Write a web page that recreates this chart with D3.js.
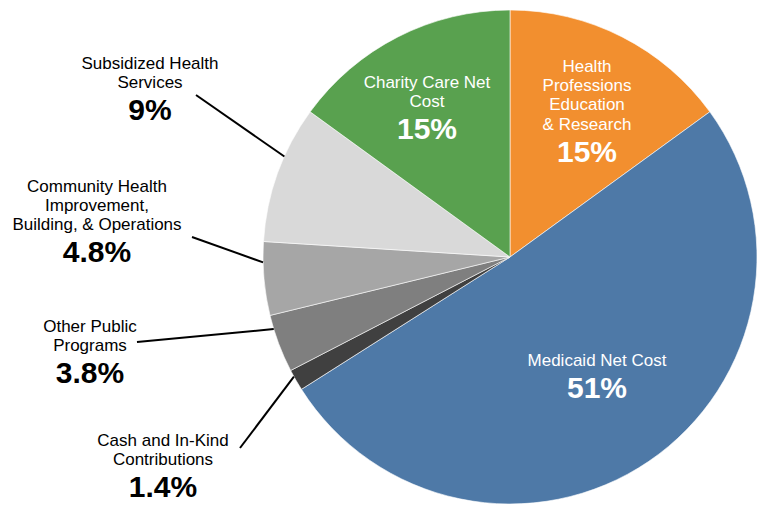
<!DOCTYPE html>
<html><head><meta charset="utf-8">
<script src="https://cdn.jsdelivr.net/npm/d3@7"></script>
<style>body{margin:0;background:#fff}svg{display:block}text{font-family:"Liberation Sans",Arial,sans-serif}</style>
</head><body>
<svg id="c" width="765" height="506"></svg>
<script>
const categories = ["Health Professions Education & Research","Medicaid Net Cost","Cash and In-Kind Contributions","Other Public Programs","Community Health Improvement, Building, & Operations","Subsidized Health Services","Charity Care Net Cost"];
const values = [15, 51, 1.4, 3.8, 4.8, 9, 15];
const valueLabels = ["15%","51%","1.4%","3.8%","4.8%","9%","15%"];
const labelLines = [["Health","Professions","Education","& Research"],["Medicaid Net Cost"],["Cash and In-Kind","Contributions"],["Other Public","Programs"],["Community Health","Improvement,","Building, & Operations"],["Subsidized Health","Services"],["Charity Care Net","Cost"]];
const colors = ["#F28F2F","#4E79A7","#404040","#7F7F7F","#A6A6A6","#D9D9D9","#59A14F"];

// layout (label anchors: x center, y of first line baseline)
const layout = [
  {x:587,y:72,inside:true},
  {x:597,y:366,inside:true},
  {x:163,y:446,leader:[240,448],frac:0.68},
  {x:90,y:332,leader:[137,342],frac:0.76},
  {x:97,y:192,leader:[192,237],frac:0.72},
  {x:150,y:69,leader:[196,95],frac:0.63},
  {x:427,y:88,inside:true}
];
const cx=510, cy=257, R=247, LH=19.2, PO=32;
const svg=d3.select("#c");
const g=svg.append("g").attr("transform",`translate(${cx},${cy})`);
const pie=d3.pie().sort(null).value(d=>d)(values);
const arc=d3.arc().innerRadius(0).outerRadius(R);
g.selectAll("path").data(pie).join("path").attr("d",arc).attr("fill",(d,i)=>colors[i]).attr("stroke","#fff").attr("stroke-width",0.6);

// leaders
pie.forEach((d,i)=>{
  const L=layout[i]; if(!L.leader) return;
  const a=d.startAngle+(d.endAngle-d.startAngle)*L.frac;
  const px=cx+R*Math.sin(a), py=cy-R*Math.cos(a);
  svg.append("line").attr("x1",L.leader[0]).attr("y1",L.leader[1]).attr("x2",px).attr("y2",py).attr("stroke","#000").attr("stroke-width",2);
});
// labels
categories.forEach((c,i)=>{
  const L=layout[i]; const col=L.inside?"#fff":"#000";
  const t=svg.append("text").attr("text-anchor","middle").attr("fill",col);
  labelLines[i].forEach((ln,j)=>{
    t.append("tspan").attr("x",L.x).attr("y",L.y+j*LH).attr("font-size",17).text(ln);
  });
  svg.append("text").attr("text-anchor","middle").attr("fill",col).attr("x",L.x).attr("y",L.y+(labelLines[i].length-1)*LH+PO)
    .attr("font-size",30).attr("font-weight","bold").text(valueLabels[i]);
});
</script>
</body></html>
